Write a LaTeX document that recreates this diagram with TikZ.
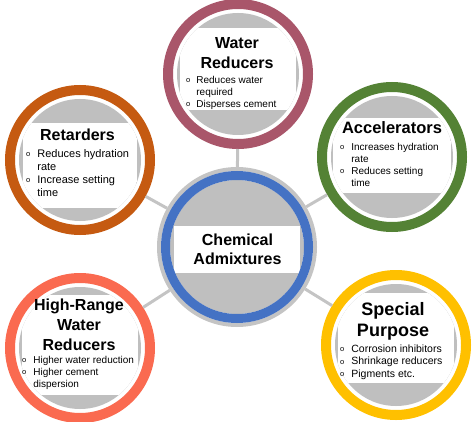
\documentclass[tikz,border=0pt]{standalone}
\usepackage{fontspec}
\setmainfont{Liberation Sans}
\usepackage{tikz}
\usetikzlibrary{positioning}
\definecolor{wrcol}{HTML}{A9566A}
\definecolor{retcol}{HTML}{C55A11}
\definecolor{acccol}{HTML}{548235}
\definecolor{hrcol}{HTML}{FA6A50}
\definecolor{spcol}{HTML}{FFC000}
\definecolor{chemblue}{HTML}{4472C4}
\definecolor{diskgray}{HTML}{BFBFBF}
\definecolor{linkgray}{HTML}{C4C4C4}
\newcommand{\bulo}{\raisebox{0.6pt}{\fontsize{7.5}{7.5}\selectfont o}}
\tikzset{ring/.style={circle,draw=#1,line width=10pt,fill=white,minimum size=140pt,inner sep=0pt},
  disk/.style n args={4}{circle,fill=diskgray,minimum size=#1,inner sep=0pt,
    path picture={\fill[white] ([shift={(-#2,#3)}]path picture bounding box.center) rectangle ([shift={(#2,#4)}]path picture bounding box.center);}},
  heading/.style={font=\bfseries\fontsize{16}{20}\selectfont,inner sep=0pt,anchor=north},
  items/.style={font=\fontsize{10}{12}\selectfont,inner sep=0pt,anchor=north west},
  link/.style={draw=linkgray,line width=3pt},}

\begin{document}
\begin{tikzpicture}[x=1pt, y=-1pt]
	\useasboundingbox (0,0) rectangle (473,422);
	% centre circle
	\node[circle, draw=linkgray, line width=4pt, fill=white, minimum size=156pt, inner sep=0pt] (chem) at (237,247) {};
	\node[disk={134pt}{63pt}{21pt}{-26pt}] (chemdisk) at (chem) {};
	\node[circle, draw=chemblue, line width=9pt, minimum size=143pt, inner sep=0pt] (chemring) at (chem) {};
	% outer circles
	\node[ring=wrcol] (wr) at (238,74) {};
	\node[ring=retcol] (ret) at (80,160) {};
	\node[ring=acccol] (acc) at (392,157) {};
	\node[ring=hrcol] (hr) at (80,348) {};
	\node[ring=spcol] (sp) at (396,345) {};
	\node[disk={122pt}{58pt}{46pt}{-36pt}] (wrdisk) at (wr) {};
	\node[disk={122pt}{57pt}{37pt}{-48pt}] (retdisk) at (ret) {};
	\node[disk={122pt}{59pt}{39pt}{-36pt}] (accdisk) at (acc) {};
	\node[disk={122pt}{58pt}{53pt}{-47pt}] (hrdisk) at (hr) {};
	\node[disk={122pt}{58pt}{52pt}{-38pt}] (spdisk) at (sp) {};

	\path[link]
	(chem) edge (wr)
	(chem) edge (ret)
	(chem) edge (acc)
	(chem) edge (hr)
	(chem) edge (sp);

	% texts
	\node[heading, font=\bfseries\fontsize{16}{19}\selectfont] (chemhead) at (237.5,231.7) {\begin{tabular}{@{}c@{}}Chemical\\Admixtures\end{tabular}};

	\node[heading] (wrhead) at (237,34) {\begin{tabular}{@{}c@{}}Water\\Reducers\end{tabular}};
	\node[items] (wrlist) at (186,74.6) {\begin{tabular}{@{}l@{\hspace{6pt}}l@{}}\bulo & Reduces water\\ & required\\ \bulo & Disperses cement\end{tabular}};

	\node[heading] (rethead) at (77.5,129) {Retarders};
	\node[items, font=\fontsize{11}{13}\selectfont] (retlist) at (26,147.9) {\begin{tabular}{@{}l@{\hspace{7pt}}l@{}}\bulo & Reduces hydration\\ & rate\\ \bulo & Increase setting\\ & time\end{tabular}};

	\node[heading, font=\bfseries\fontsize{16.5}{20}\selectfont] (acchead) at (392,121) {Accelerators};
	\node[items] (acclist) at (340,141.6) {\begin{tabular}{@{}l@{\hspace{7pt}}l@{}}\bulo & Increases hydration\\ & rate\\ \bulo & Reduces setting\\ & time\end{tabular}};

	\node[heading] (hrhead) at (79,296) {\begin{tabular}{@{}c@{}}High-Range\\Water\\Reducers\end{tabular}};
	\node[items] (hrlist) at (22,354.6) {\begin{tabular}{@{}l@{\hspace{7pt}}l@{}}\bulo & Higher water reduction\\ \bulo & Higher cement\\ & dispersion\end{tabular}};

	\node[heading, font=\bfseries\fontsize{18}{21}\selectfont] (sphead) at (393,300.3) {\begin{tabular}{@{}c@{}}Special\\Purpose\end{tabular}};
	\node[items, font=\fontsize{10.5}{12.5}\selectfont] (splist) at (340,343.2) {\begin{tabular}{@{}l@{\hspace{7pt}}l@{}}\bulo & Corrosion inhibitors\\ \bulo & Shrinkage reducers\\ \bulo & Pigments etc.\end{tabular}};
\end{tikzpicture}
\end{document}
